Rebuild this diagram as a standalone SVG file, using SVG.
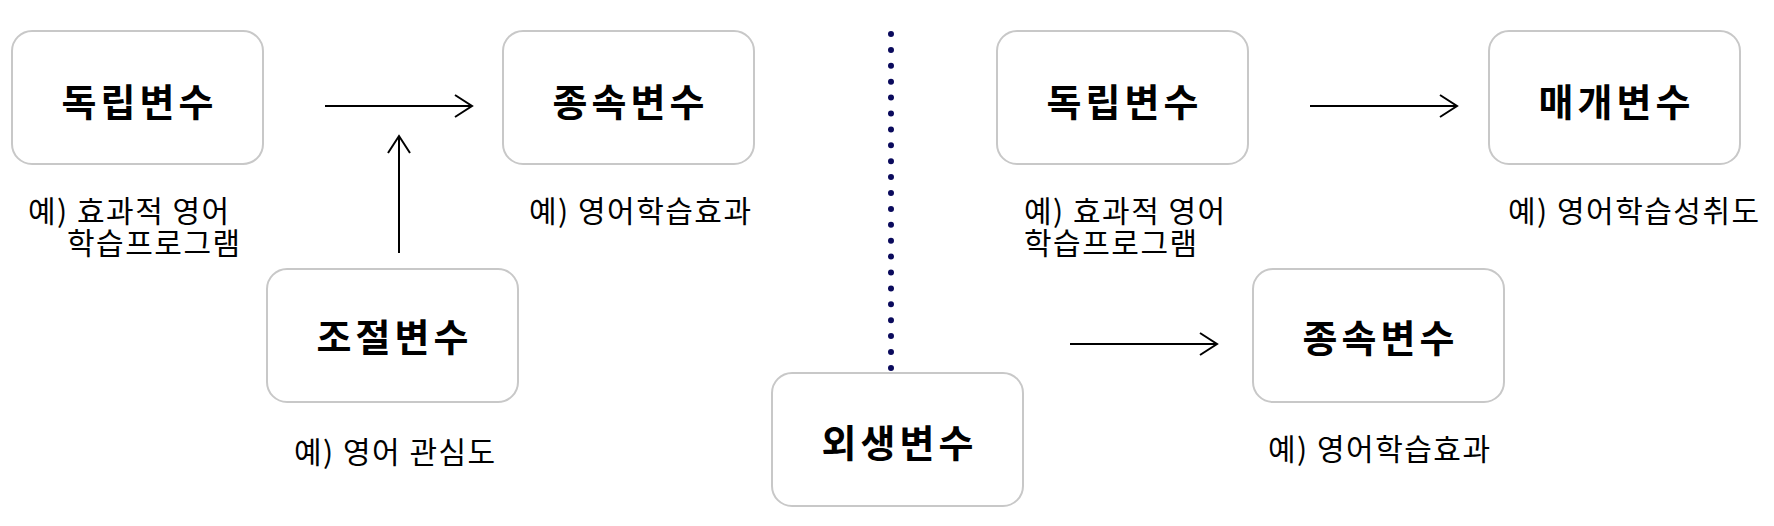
<svg xmlns="http://www.w3.org/2000/svg" width="1774" height="526" viewBox="0 0 1774 526">
<style>
.box{fill:#ffffff;stroke:#c8c8c8;stroke-width:2}
.title{font-family:"Noto Sans CJK KR","Noto Sans",sans-serif;font-weight:bold;font-size:38px;letter-spacing:4px;fill:#000;text-anchor:middle}
.lbl{font-family:"Noto Sans CJK KR","Noto Sans",sans-serif;font-size:30px;letter-spacing:1.5px;fill:#000}
.conn{stroke:#000;stroke-width:2;fill:none}
.dots{stroke:#0a0a5c;stroke-width:6;stroke-linecap:round;stroke-dasharray:0 15.9;fill:none}
</style>
<defs>
<marker id="arr" markerUnits="userSpaceOnUse" markerWidth="26" markerHeight="26" refX="19" refY="12" orient="auto" overflow="visible">
<path d="M2,1 L19,12 L2,23" fill="none" stroke="#000" stroke-width="2"/>
</marker>
</defs>
<rect width="1774" height="526" fill="#ffffff"/>
<g id="connectors">
<line class="conn" x1="325" y1="106" x2="472" y2="106" marker-end="url(#arr)"/>
<line class="conn" x1="399" y1="253" x2="399" y2="136" marker-end="url(#arr)"/>
<line class="conn" x1="1310" y1="106" x2="1457" y2="106" marker-end="url(#arr)"/>
<line class="conn" x1="1070" y1="344" x2="1217" y2="344" marker-end="url(#arr)"/>
<line class="dots" x1="891" y1="34" x2="891" y2="368"/>
</g>
<g id="node-independent-left">
<rect class="box" x="12" y="31" width="251" height="133" rx="20"/>
<text class="title" x="139.5" y="116">독립변수</text>
<text class="lbl"><tspan x="28" y="222">예) 효과적 영어</tspan><tspan x="67" y="254">학습프로그램</tspan></text>
</g>
<g id="node-dependent-left">
<rect class="box" x="503" y="31" width="251" height="133" rx="20"/>
<text class="title" x="630.5" y="116">종속변수</text>
<text class="lbl" x="529" y="222">예) 영어학습효과</text>
</g>
<g id="node-moderator">
<rect class="box" x="267" y="269" width="251" height="133" rx="20"/>
<text class="title" x="394.5" y="351">조절변수</text>
<text class="lbl" x="294" y="463">예) 영어 관심도</text>
</g>
<g id="node-extraneous">
<rect class="box" x="772" y="373" width="251" height="133" rx="20"/>
<text class="title" x="899.5" y="457">외생변수</text>
</g>
<g id="node-independent-right">
<rect class="box" x="997" y="31" width="251" height="133" rx="20"/>
<text class="title" x="1124.5" y="116">독립변수</text>
<text class="lbl"><tspan x="1024" y="222">예) 효과적 영어</tspan><tspan x="1024" y="254">학습프로그램</tspan></text>
</g>
<g id="node-mediator">
<rect class="box" x="1489" y="31" width="251" height="133" rx="20"/>
<text class="title" x="1616.5" y="116">매개변수</text>
<text class="lbl" x="1508" y="222">예) 영어학습성취도</text>
</g>
<g id="node-dependent-right">
<rect class="box" x="1253" y="269" width="251" height="133" rx="20"/>
<text class="title" x="1380.5" y="352">종속변수</text>
<text class="lbl" x="1268" y="460">예) 영어학습효과</text>
</g>
</svg>
